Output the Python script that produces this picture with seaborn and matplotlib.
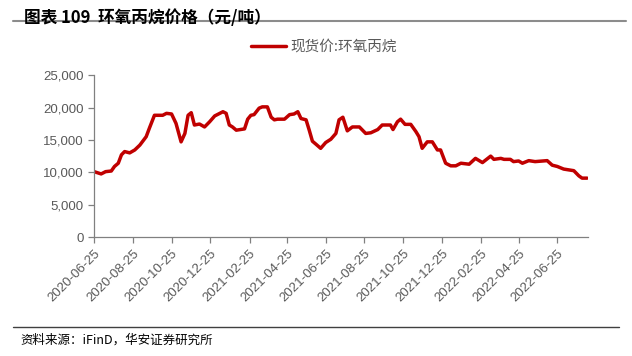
import matplotlib
matplotlib.use("Agg")
import matplotlib.pyplot as plt
import matplotlib.dates as mdates
from matplotlib.ticker import FuncFormatter
import pandas as pd
import seaborn as sns

# 现货价:环氧丙烷 (元/吨)
fechas = [
    "2020-06-25", "2020-07-06", "2020-07-13", "2020-07-22", "2020-07-27",
    "2020-08-02", "2020-08-07", "2020-08-12", "2020-08-20", "2020-08-28",
    "2020-09-05", "2020-09-15", "2020-09-20", "2020-09-28", "2020-10-11",
    "2020-10-17", "2020-10-25", "2020-11-01", "2020-11-09", "2020-11-15",
    "2020-11-20", "2020-11-25", "2020-11-30", "2020-12-08", "2020-12-16",
    "2020-12-24", "2021-01-01", "2021-01-09", "2021-01-14", "2021-01-19",
    "2021-01-24", "2021-01-29", "2021-02-04", "2021-02-17", "2021-02-22",
    "2021-02-27", "2021-03-04", "2021-03-12", "2021-03-17", "2021-03-25",
    "2021-03-31", "2021-04-05", "2021-04-10", "2021-04-21", "2021-04-29",
    "2021-05-06", "2021-05-12", "2021-05-17", "2021-05-25", "2021-05-30",
    "2021-06-04", "2021-06-10", "2021-06-17", "2021-06-25", "2021-07-03",
    "2021-07-11", "2021-07-16", "2021-07-22", "2021-07-29", "2021-08-06",
    "2021-08-17", "2021-08-27", "2021-09-04", "2021-09-15", "2021-09-22",
    "2021-10-05", "2021-10-09", "2021-10-16", "2021-10-21", "2021-10-28",
    "2021-11-06", "2021-11-14", "2021-11-19", "2021-11-24", "2021-12-02",
    "2021-12-10", "2021-12-18", "2021-12-23", "2021-12-31", "2022-01-08",
    "2022-01-16", "2022-01-24", "2022-02-06", "2022-02-16", "2022-02-27",
    "2022-03-12", "2022-03-17", "2022-03-28", "2022-04-02", "2022-04-12",
    "2022-04-17", "2022-04-25", "2022-05-01", "2022-05-11", "2022-05-21",
    "2022-06-09", "2022-06-17", "2022-06-25", "2022-07-05", "2022-07-21",
    "2022-07-29", "2022-08-03", "2022-08-11",
]
precios = [
    10100, 9750, 10100, 10200, 10900,
    11400, 12700, 13200, 13000, 13450,
    14200, 15500, 16800, 18800, 18800,
    19100, 19000, 17550, 14700, 16000,
    18800, 19200, 17300, 17450, 17000,
    17800, 18700, 19100, 19350, 19100,
    17300, 17000, 16500, 16700, 18200,
    18800, 18900, 19900, 20100, 20100,
    18500, 18100, 18200, 18200, 18900,
    19000, 19350, 18300, 18100, 16500,
    14800, 14300, 13700, 14600, 15100,
    16000, 18100, 18500, 16400, 17000,
    17000, 16000, 16100, 16600, 17300,
    17300, 16600, 17800, 18200, 17400,
    17400, 16300, 15500, 13700, 14700,
    14700, 13450, 13450, 11400, 11000,
    11000, 11400, 11250, 12150, 11500,
    12500, 12000, 12150, 12000, 12000,
    11650, 11750, 11400, 11800, 11650,
    11800, 11100, 10900, 10500, 10250,
    9450, 9100, 9100,
]
ticks_x = [
    "2020-06-25", "2020-08-25", "2020-10-25", "2020-12-25", "2021-02-25",
    "2021-04-25", "2021-06-25", "2021-08-25", "2021-10-25", "2021-12-25",
    "2022-02-25", "2022-04-25", "2022-06-25",
]
ticks_y = [0, 5000, 10000, 15000, 20000, 25000]
serie = "现货价:环氧丙烷"

df = pd.DataFrame({"fecha": pd.to_datetime(fechas), "precio": precios})

sns.set_style("white")
plt.rcParams["font.family"] = ["Noto Sans CJK SC", "DejaVu Sans"]

gris = "#595959"
fig = plt.figure(figsize=(6.32, 3.56), dpi=100)
ax = fig.add_axes([0.149, 0.334, 0.781, 0.455])

sns.lineplot(data=df, x="fecha", y="precio", color="#C00000", linewidth=2.5,
             label=serie, ax=ax)

ax.set_xlim(pd.Timestamp("2020-06-25"), pd.Timestamp("2022-08-12"))
ax.set_ylim(0, 25000)
ax.set_xticks(pd.to_datetime(ticks_x))
ax.xaxis.set_major_formatter(mdates.DateFormatter("%Y-%m-%d"))
ax.set_yticks(ticks_y)
ax.yaxis.set_major_formatter(FuncFormatter(lambda v, p: f"{int(v):,}"))
ax.set_xlabel("")
ax.set_ylabel("")

for lado in ["top", "right"]:
    ax.spines[lado].set_visible(False)
for lado in ["left", "bottom"]:
    ax.spines[lado].set_color("#808080")
    ax.spines[lado].set_linewidth(0.9)
ax.tick_params(axis="both", colors="#808080", length=4, width=0.9,
               direction="out", labelsize=9.5, labelcolor=gris)
ax.tick_params(axis="x", bottom=True)
ax.tick_params(axis="y", left=True)
for etiqueta in ax.get_xticklabels():
    etiqueta.set_rotation(45)
    etiqueta.set_ha("right")
    etiqueta.set_rotation_mode("anchor")
    etiqueta.set_family("Liberation Sans")
for etiqueta in ax.get_yticklabels():
    etiqueta.set_family("Liberation Sans")

leg = ax.legend(loc="upper center", bbox_to_anchor=(0.465, 1.3), frameon=False,
                fontsize=10.5, handlelength=2.4, handletextpad=0.3)
for txt in leg.get_texts():
    txt.set_color(gris)

fig.text(0.038, 0.975, "图表 109  环氧丙烷价格（元/吨）", fontsize=12,
         fontweight="bold", va="top", ha="left", color="#000000")
fig.add_artist(plt.Line2D([0.02, 0.99], [0.941, 0.941], color="#8c8c8c",
                          linewidth=1.5))
fig.add_artist(plt.Line2D([0.02, 0.98], [0.082, 0.082], color="#404040",
                          linewidth=1.0))
fig.text(0.032, 0.045, "资料来源：iFinD，华安证券研究所", fontsize=9,
         va="center", ha="left", color="#000000")

fig.savefig("out.png", dpi=100)
plt.close()
